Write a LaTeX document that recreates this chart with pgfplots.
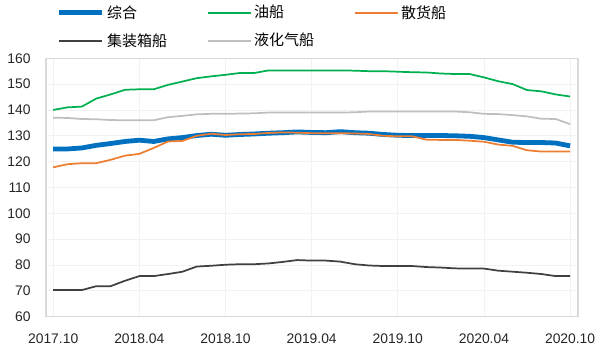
\documentclass[border=0pt]{standalone}
\usepackage{pgfplots}
\pgfplotsset{compat=1.18}
\usepackage{pgfplotstable}
\usepackage{fontspec}
\setmainfont{Liberation Sans}
\newfontfamily\cjk{Noto Sans CJK SC}
\definecolor{cBlue}{RGB}{0,112,192}
\definecolor{cGreen}{RGB}{0,176,80}
\definecolor{cOrange}{RGB}{237,125,49}
\definecolor{cDark}{RGB}{64,64,64}
\definecolor{cLight}{RGB}{191,191,191}
\definecolor{cFrame}{RGB}{217,217,217}
\definecolor{cGrid}{RGB}{242,242,242}
\pgfplotstableread{
m zh yc sh jz yh
0 124.9 140.0 117.8 70.3 137.0
1 124.9 141.0 119.0 70.3 136.9
2 125.3 141.3 119.4 70.3 136.5
3 126.3 144.4 119.4 71.8 136.4
4 127.0 146.0 120.7 71.8 136.1
5 127.8 147.8 122.3 73.9 136.0
6 128.3 148.0 123.0 75.7 136.0
7 127.8 148.0 125.3 75.7 136.0
8 128.8 149.7 127.8 76.5 137.2
9 129.3 151.0 128.0 77.4 137.7
10 130.1 152.3 130.0 79.4 138.3
11 130.6 153.0 130.8 79.7 138.5
12 130.2 153.6 130.3 80.1 138.5
13 130.5 154.3 130.6 80.3 138.6
14 130.7 154.3 130.7 80.3 138.7
15 131.0 155.3 131.1 80.6 139.0
16 131.2 155.3 131.3 81.2 139.0
17 131.5 155.3 131.2 81.9 139.0
18 131.3 155.3 131.0 81.7 139.0
19 131.2 155.3 131.0 81.7 139.0
20 131.6 155.3 131.0 81.3 139.0
21 131.2 155.2 130.9 80.3 139.1
22 131.0 155.0 130.7 79.8 139.4
23 130.5 155.0 130.0 79.6 139.4
24 130.2 154.8 129.8 79.6 139.4
25 130.1 154.6 129.8 79.6 139.4
26 130.1 154.5 128.5 79.2 139.4
27 130.1 154.1 128.4 79.0 139.4
28 130.0 153.9 128.4 78.7 139.4
29 129.8 153.9 128.1 78.6 139.1
30 129.3 152.6 127.7 78.6 138.5
31 128.4 151.1 126.6 77.8 138.4
32 127.5 150.0 126.1 77.4 138.0
33 127.4 147.7 124.4 77.0 137.5
34 127.4 147.2 123.9 76.5 136.6
35 127.2 146.0 123.9 75.7 136.5
36 126.1 145.2 123.9 75.7 134.5
}\data
\begin{document}
\begin{tikzpicture}
\useasboundingbox (-34.5pt,-27.98pt) rectangle (415.5pt,237.5pt);
\begin{axis}[
  at={(0,0)}, anchor=south west,
  scale only axis,
  width=399pt, height=193.8pt,
  xmin=-0.5, xmax=36.55,
  ymin=60, ymax=160,
  xtick={0,6,12,18,24,30,36},
  xticklabels={2017.10,2018.04,2018.10,2019.04,2019.10,2020.04,2020.10},
  ytick={60,70,...,160},
  tick style={draw=none},
  axis line style={cFrame, line width=0.8pt},
  grid=major,
  major grid style={cGrid, line width=0.6pt},
  tick label style={font=\fontsize{10.4}{12}\selectfont, text=black!85},
  /pgf/number format/assume math mode=true,
  yticklabel style={xshift=-8pt},
  xticklabel style={yshift=-9pt},
  legend columns=3,
  legend style={
    at={(axis description cs:0.0,1.0)}, anchor=south west,
    xshift=5pt, yshift=3.5pt,
    draw=none, fill=none,
    font=\cjk\fontsize{11.25}{13}\selectfont,
    cells={anchor=west},
    /tikz/every even column/.append style={column sep=0pt},
    row sep=6pt,
    nodes={text width=73pt, align=left, inner xsep=2pt},
  },
  legend image code/.code={\draw[#1] (0pt,0pt) -- (32pt,0pt);},
]
\addplot[cBlue, line width=3.6pt, line join=round] table[x=m,y=zh]{\data};
\addlegendentry{综合}
\addplot[cGreen, line width=1.3pt, line join=round] table[x=m,y=yc]{\data};
\addlegendentry{油船}
\addplot[cOrange, line width=1.3pt, line join=round] table[x=m,y=sh]{\data};
\addlegendentry{散货船}
\addplot[cDark, line width=1.3pt, line join=round] table[x=m,y=jz]{\data};
\addlegendentry{集装箱船}
\addplot[cLight, line width=1.3pt, line join=round] table[x=m,y=yh]{\data};
\addlegendentry{液化气船}
\end{axis}
\end{tikzpicture}
\end{document}
